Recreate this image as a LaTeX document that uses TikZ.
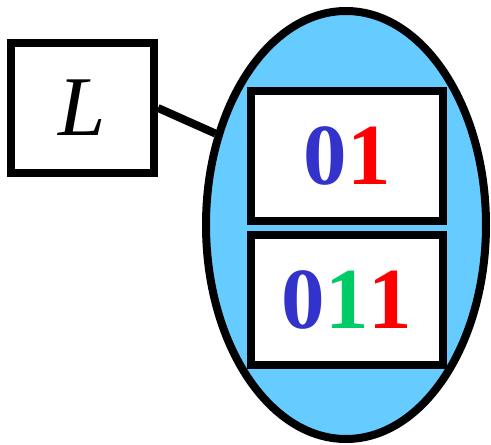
\documentclass[tikz,border=0pt]{standalone}
\usepackage{fontspec}
\setmainfont{Liberation Serif}
\usetikzlibrary{shapes.geometric}
\definecolor{setblue}{HTML}{66CCFF}
\definecolor{dblue}{HTML}{3333CC}
\definecolor{dred}{HTML}{FF0000}
\definecolor{dgreen}{HTML}{00CC66}
\tikzset{
  box/.style={draw, line width=8pt, fill=white, minimum width=192pt, minimum height=130pt, inner sep=0pt},
  big/.style={font=\fontsize{87}{90}\selectfont\bfseries}
}
\begin{document}
\begin{tikzpicture}[x=1pt,y=-1pt]
  \useasboundingbox (0,0) rectangle (491,445);
  % --- the set and its members ---
  \node[ellipse, draw, line width=8pt, fill=setblue, minimum width=280pt, minimum height=428pt, inner sep=0pt] (set) at (346,225) {};
  \node[box, big] (w1) at (347,156) {\textcolor{dblue}{0}\textcolor{dred}{1}};
  \node[box, big] (w2) at (347,300) {\textcolor{dblue}{0}\textcolor{dgreen}{1}\textcolor{dred}{1}};
  % --- the label ---
  \node[box, minimum width=143pt, font=\fontsize{85}{88}\selectfont\itshape] (L) at (82.5,108) {L};
  \draw[line width=8pt] (L.east) -- (set.145);
\end{tikzpicture}
\end{document}
